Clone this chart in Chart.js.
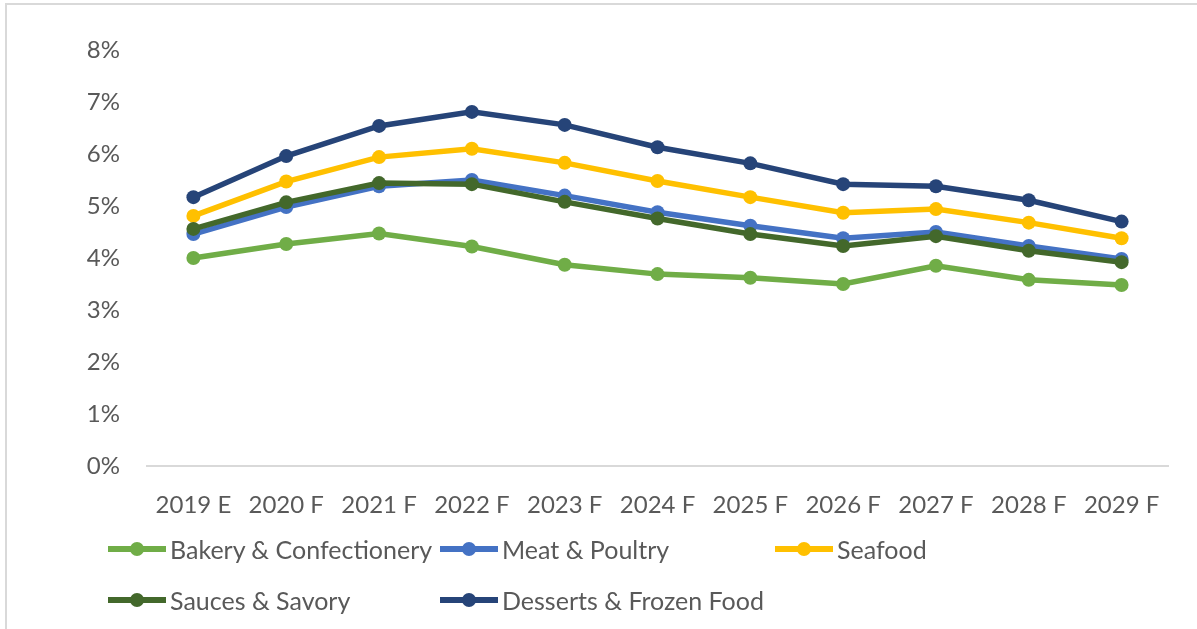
<!DOCTYPE html>
<html>
<head>
<meta charset="utf-8">
<script src="https://cdn.jsdelivr.net/npm/chart.js@4.4.0/dist/chart.umd.min.js"></script>
<style>
  html, body { margin: 0; padding: 0; background: #fff; }
  #wrap { position: relative; width: 1197px; height: 629px; overflow: hidden; }
  #frame { position: absolute; left: 5px; top: 3px; width: 1300px; height: 700px;
           border-top: 2px solid #d9d9d9; border-left: 2px solid #d9d9d9; }
  #myChart { position: absolute; left: 0; top: 0; }
  .item { position: absolute; height: 30px; display: flex; align-items: center;
          font-family: Lato, sans-serif; font-size: 25px; color: #595959; white-space: nowrap; }
  .mark { position: relative; width: 58px; height: 30px; margin-right: 4px; }
  .mark .ln { position: absolute; left: 0; right: 0; top: 12px; height: 6px; }
  .mark .dot { position: absolute; left: 22px; top: 8px; width: 14px; height: 14px; border-radius: 50%; }
</style>
</head>
<body>
<div id="wrap">
  <div id="frame"></div>
  <canvas id="myChart" width="1197" height="629"></canvas>
  <div id="legend"></div>
</div>
<script>
const years = ['2019 E', '2020 F', '2021 F', '2022 F', '2023 F', '2024 F', '2025 F', '2026 F', '2027 F', '2028 F', '2029 F'];

const bakery   = [4.00, 4.27, 4.47, 4.22, 3.87, 3.69, 3.62, 3.50, 3.85, 3.58, 3.48];
const meat     = [4.46, 4.98, 5.38, 5.50, 5.20, 4.88, 4.62, 4.38, 4.50, 4.23, 3.98];
const seafood  = [4.81, 5.47, 5.94, 6.10, 5.83, 5.48, 5.17, 4.87, 4.94, 4.68, 4.38];
const sauces   = [4.56, 5.07, 5.44, 5.42, 5.08, 4.76, 4.46, 4.23, 4.42, 4.14, 3.92];
const desserts = [5.17, 5.96, 6.54, 6.81, 6.56, 6.13, 5.82, 5.42, 5.38, 5.11, 4.70];

const names  = ['Bakery & Confectionery', 'Meat & Poultry', 'Seafood', 'Sauces & Savory', 'Desserts & Frozen Food'];
const colors = ['#70AD47', '#4472C4', '#FFC000', '#43682B', '#264478'];
const series = [bakery, meat, seafood, sauces, desserts];

const yTicks = [0, 1, 2, 3, 4, 5, 6, 7, 8];

const datasets = series.map((vals, i) => ({
  label: names[i],
  data: vals,
  borderColor: colors[i],
  backgroundColor: colors[i],
  borderWidth: 5.5,
  pointRadius: 7,
  pointBorderWidth: 0,
  pointBackgroundColor: colors[i],
  tension: 0,
  order: series.length - i
}));

const ctx = document.getElementById('myChart').getContext('2d');
const myChart = new Chart(ctx, {
  type: 'line',
  data: { labels: years, datasets: datasets },
  options: {
    responsive: false,
    animation: false,
    layout: { padding: { top: 50, right: 29, bottom: 103, left: 0 } },
    plugins: { legend: { display: false }, tooltip: { enabled: false } },
    scales: {
      x: {
        offset: true,
        grid: { display: false, drawTicks: false },
        border: { display: true, color: '#d9d9d9', width: 2 },
        ticks: { color: '#595959', padding: 25, font: { family: 'Lato', size: 24 } },
        afterFit: (s) => { s.height = 60; }
      },
      y: {
        min: 0,
        max: 8,
        afterBuildTicks: (s) => { s.ticks = yTicks.map(v => ({ value: v })); },
        grid: { display: false, drawTicks: false },
        border: { display: false },
        ticks: { color: '#595959', padding: 27, font: { family: 'Lato', size: 24 },
                 callback: (v) => v + '%' },
        afterFit: (s) => { s.width = 147; }
      }
    }
  }
});

// legend laid out like the original: two rows, fixed columns
const legendPos = [[108, 534], [440, 534], [775, 534], [108, 585], [440, 585]];
const legend = document.getElementById('legend');
names.forEach((n, i) => {
  const it = document.createElement('div');
  it.className = 'item';
  it.style.left = legendPos[i][0] + 'px';
  it.style.top = legendPos[i][1] + 'px';
  it.innerHTML = '<div class="mark"><div class="ln" style="background:' + colors[i] + '"></div>' +
    '<div class="dot" style="background:' + colors[i] + '"></div></div><span>' + n + '</span>';
  legend.appendChild(it);
});
</script>
</body>
</html>
